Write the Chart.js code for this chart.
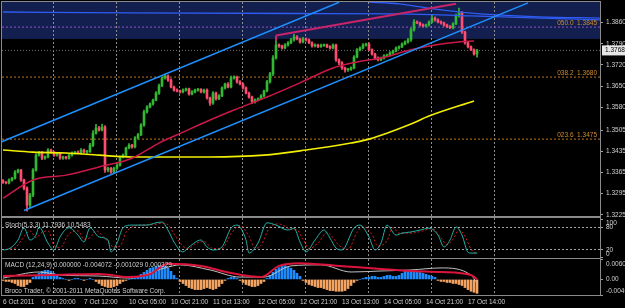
<!DOCTYPE html>
<html>
<head>
<meta charset="utf-8">
<script src="https://cdn.jsdelivr.net/npm/chart.js@4.4.0/dist/chart.umd.min.js"></script>
<style>
  html, body { margin: 0; padding: 0; background: #000; }
  #wrap { position: relative; width: 625px; height: 308px; overflow: hidden; }
  #wrap canvas { position: absolute; left: 0; top: 0; }
</style>
</head>
<body>
<div id="wrap">
  <canvas id="mainChart" width="625" height="308"></canvas>
  <canvas id="stochChart" width="625" height="308"></canvas>
  <canvas id="macdChart" width="625" height="308"></canvas>
</div>
<script>
const fontFam = '"Liberation Sans", Arial, sans-serif';
const txtColor = '#d0d0d0';
const xMin = -0.333, xMax = 199; // bar index range, right part is chart shift

// time axis
const gridIdx = [17, 38, 59, 80, 101, 122, 143, 164];
const timeIdx = [0, 13, 27, 42, 56, 70, 85, 99, 113, 127, 141, 155];
const timeLabels = ['6 Oct 2011', '6 Oct 20:00', '7 Oct 12:00', '10 Oct 05:00', '10 Oct 21:00', '11 Oct 13:00',
  '12 Oct 05:00', '12 Oct 21:00', '13 Oct 13:00', '14 Oct 05:00', '14 Oct 21:00', '17 Oct 14:00'];

// price panel
const priceMin = 1.3221, priceMax = 1.3928;
const priceTicks = [1.3860, 1.3790, 1.3720, 1.3650, 1.3580, 1.3505, 1.3435, 1.3365, 1.3295, 1.3225];
const firstOpen = 1.3338;
const closes = [
  1.3333, 1.3330, 1.3340, 1.3346, 1.3366, 1.3373, 1.3340, 1.3313, 1.3257, 1.3290,
  1.3373, 1.3422, 1.3432, 1.3412, 1.3416, 1.3439, 1.3432, 1.3422, 1.3426, 1.3412,
  1.3416, 1.3412, 1.3422, 1.3429, 1.3432, 1.3429, 1.3439, 1.3432, 1.3434, 1.3455,
  1.3495, 1.3512, 1.3505, 1.3515, 1.3373, 1.3379, 1.3366, 1.3379, 1.3389, 1.3416,
  1.3422, 1.3446, 1.3455, 1.3449, 1.3479, 1.3489, 1.3522, 1.3565, 1.3581, 1.3591,
  1.3604, 1.3627, 1.3651, 1.3677, 1.3684, 1.3670, 1.3647, 1.3637, 1.3634, 1.3631,
  1.3637, 1.3641, 1.3624, 1.3631, 1.3637, 1.3639, 1.3631, 1.3637, 1.3611, 1.3594,
  1.3627, 1.3608, 1.3618, 1.3644, 1.3657, 1.3647, 1.3677, 1.3680, 1.3664, 1.3657,
  1.3644, 1.3627, 1.3614, 1.3598, 1.3604, 1.3608, 1.3618, 1.3634, 1.3664, 1.3690,
  1.3743, 1.3786, 1.3783, 1.3776, 1.3786, 1.3793, 1.3803, 1.3813, 1.3806, 1.3796,
  1.3806, 1.3803, 1.3793, 1.3783, 1.3786, 1.3781, 1.3785, 1.3786, 1.3780, 1.3776,
  1.3786, 1.3737, 1.3727, 1.3710, 1.3704, 1.3706, 1.3710, 1.3746, 1.3770, 1.3776,
  1.3786, 1.3789, 1.3770, 1.3756, 1.3743, 1.3737, 1.3743, 1.3750, 1.3753, 1.3760,
  1.3766, 1.3776, 1.3780, 1.3789, 1.3796, 1.3803, 1.3836, 1.3862, 1.3859, 1.3852,
  1.3849, 1.3852, 1.3862, 1.3875, 1.3869, 1.3862, 1.3859, 1.3852, 1.3846, 1.3843,
  1.3856, 1.3882, 1.3892, 1.3829, 1.3793, 1.3780, 1.3770, 1.3756, 1.3768
];
// wick lengths in pips above / below the body
const wickUp = [
  3, 2, 4, 3, 5, 3, 2, 3, 4, 6, 5, 4, 3, 3, 4, 5, 3, 2, 3, 3,
  3, 2, 3, 4, 3, 4, 5, 3, 4, 6, 8, 12, 5, 10, 5, 4, 3, 4, 5, 3,
  4, 3, 5, 3, 4, 5, 4, 6, 5, 4, 3, 5, 6, 4, 6, 3, 4, 3, 4, 3,
  4, 3, 3, 4, 3, 4, 3, 3, 4, 3, 5, 3, 4, 4, 3, 5, 6, 4, 3, 4,
  3, 4, 3, 3, 4, 3, 4, 3, 5, 6, 8, 22, 4, 3, 5, 4, 5, 8, 4, 3,
  5, 4, 3, 3, 4, 3, 4, 3, 3, 4, 4, 3, 3, 4, 3, 3, 4, 5, 4, 4,
  5, 3, 4, 3, 3, 4, 3, 4, 3, 4, 3, 4, 3, 4, 4, 5, 6, 8, 4, 3,
  4, 3, 4, 10, 4, 3, 4, 3, 3, 4, 4, 6, 16, 4, 3, 4, 3, 3, 4
];
const wickDn = [
  4, 3, 3, 4, 3, 3, 5, 6, 20, 8, 5, 4, 3, 5, 4, 3, 4, 4, 3, 4,
  4, 3, 3, 3, 4, 3, 4, 3, 4, 3, 5, 4, 4, 3, 8, 6, 4, 5, 4, 3,
  3, 4, 3, 4, 3, 4, 3, 5, 4, 3, 4, 3, 4, 3, 4, 4, 3, 4, 3, 4,
  3, 4, 4, 3, 3, 4, 3, 4, 4, 8, 4, 4, 3, 3, 4, 3, 3, 4, 4, 3,
  4, 3, 4, 6, 4, 3, 3, 4, 3, 4, 5, 4, 5, 4, 3, 4, 3, 4, 3, 4,
  3, 4, 3, 4, 3, 4, 3, 4, 3, 4, 3, 5, 6, 5, 8, 5, 4, 3, 3, 4,
  3, 4, 3, 4, 5, 4, 3, 4, 3, 3, 4, 3, 4, 3, 3, 4, 5, 4, 3, 4,
  3, 4, 4, 3, 4, 3, 4, 4, 3, 3, 4, 3, 4, 5, 4, 4, 3, 4, 10
];
const bidPrice = 1.3768;
const fibLevels = [1.3845, 1.3680, 1.3475];
const fibNames = ['050.0', '038.2', '023.6'];
const zoneHigh = 1.3928, zoneLow = 1.3806;

// moving averages (bar index, price)
const maRedX = [0, 10, 21, 32, 43, 52, 60, 69, 77, 88, 99, 110, 118, 126, 136, 144, 152, 157];
const maRedY = [1.3280, 1.3340, 1.3356, 1.3383, 1.3412, 1.3462, 1.3498, 1.3538, 1.3571, 1.3614, 1.3661, 1.3710,
  1.3730, 1.3743, 1.3770, 1.3786, 1.3796, 1.3799];
const maYelX = [0, 10, 21, 32, 43, 56, 69, 87, 101, 116, 122, 136, 142, 157];
const maYelY = [1.3439, 1.3432, 1.3429, 1.3422, 1.3416, 1.3416, 1.3416, 1.3422, 1.3439, 1.3462, 1.3475, 1.3525,
  1.3551, 1.3601];
const maBlueX = [0, 42, 99, 132, 156, 179, 199];
const maBlueY = [1.3895, 1.3892, 1.3890, 1.3889, 1.3882, 1.3875, 1.3869];
const maBlue2X = [122, 132, 146, 159, 179, 199];
const maBlue2Y = [1.3928, 1.3922, 1.3902, 1.3889, 1.3879, 1.3875];

// trend lines (two anchors each)
const chanUpX = [-1, 112], chanUpY = [1.3464, 1.3927];
const chanLoX = [7, 175], chanLoY = [1.3239, 1.3925];
const pinkX = [91, 151], pinkY = [1.3817, 1.3922];
const pinkTickX = [91, 91], pinkTickY = [1.3817, 1.3800];

// stochastic
const stochX = [0, 2, 5, 7, 9, 11, 12, 15, 17, 19, 22, 25, 27, 29, 32, 35, 36, 38, 40, 43, 48, 51, 53, 55, 57, 60, 62, 66,
  68, 70, 73, 76, 78, 81, 82, 85, 88, 91, 95, 97, 99, 101, 104, 107, 109, 111, 113, 117, 119, 122, 124, 126, 128, 131,
  133, 136, 139, 142, 145, 147, 149, 151, 153, 155, 156, 158];
const stochY = [20, 23, 46, 78, 46, 59, 80, 38, 20, 54, 78, 59, 41, 78, 54, 46, 15, 38, 78, 85, 85, 91, 93, 72, 41, 15, 28, 46,
  28, 20, 28, 77, 85, 46, 12, 38, 91, 85, 72, 77, 41, 15, 46, 72, 51, 25, 20, 77, 85, 54, 20, 38, 85, 59,
  64, 67, 72, 77, 59, 28, 46, 80, 59, 14, 12, 11.8];
const sigX = [1, 4, 6, 9, 11, 13, 15, 17, 19, 22, 25, 27, 29, 31, 34, 37, 39, 41, 45, 50, 53, 55, 57, 60, 62, 64, 67, 70,
  73, 76, 79, 82, 84, 86, 89, 92, 96, 98, 100, 102, 105, 108, 110, 112, 115, 118, 120, 123, 125, 128, 130, 132, 136,
  140, 143, 146, 148, 150, 152, 154, 156, 158];
const sigY = [22, 25, 44, 70, 52, 66, 70, 32, 26, 62, 70, 48, 52, 70, 50, 28, 30, 66, 84, 86, 90, 86, 62, 30, 24, 36, 42, 24,
  24, 62, 84, 56, 24, 32, 80, 88, 74, 72, 48, 24, 38, 66, 52, 32, 22, 66, 82, 60, 30, 44, 78, 64, 64,
  70, 76, 52, 34, 48, 72, 56, 22, 10.5];

// MACD
const macdHist = [
  -0.0003, -0.0006, -0.0006, -0.0009,
  -0.0012, -0.0018, -0.0021, -0.0021, -0.0015, -0.0009,
  0.0006, 0.0012, 0.0018, 0.0024, 0.0027, 0.0027, 0.0024, 0.0018, 0.0012, 0.0006,
  0.0003, 0, -0.0003, 0, 0.0003, 0.0003, 0, -0.0003, 0, 0.0003, 0,
  -0.0006, -0.0012, -0.0018, -0.0021, -0.0024, -0.0024, -0.0021, -0.0018, -0.0012, -0.0006, -0.0003,
  0, 0.0003, 0.0006, 0.0009,
  0.0015, 0.0021, 0.0027, 0.0033, 0.0035, 0.0038, 0.0041, 0.0041, 0.0038, 0.0033, 0.0024, 0.0012,
  0.0003, -0.0006, -0.0012, -0.0018, -0.0024, -0.0027, -0.0030, -0.0030, -0.0030, -0.0027, -0.0024, -0.0027,
  -0.0030, -0.0027, -0.0021, -0.0012,
  -0.0003, 0.0003, 0.0006, 0.0006, 0.0003,
  -0.0003, -0.0009, -0.0015, -0.0018, -0.0021, -0.0021, -0.0018, -0.0012, -0.0006,
  0.0003, 0.0012, 0.0021, 0.0030, 0.0035, 0.0041, 0.0041, 0.0038, 0.0033, 0.0027, 0.0018, 0.0009,
  -0.0003, -0.0009, -0.0015, -0.0018, -0.0021, -0.0024, -0.0024, -0.0027, -0.0030, -0.0033, -0.0033, -0.0035,
  -0.0035, -0.0035, -0.0033, -0.0027, -0.0018, -0.0009,
  -0.0003, 0, 0.0003, 0.0006, 0.0006, 0.0009, 0.0009, 0.0006, 0.0006, 0.0009, 0.0012, 0.0012, 0.0009, 0.0009, 0.0012,
  0.0018, 0.0024, 0.0027, 0.0027, 0.0024, 0.0021, 0.0021, 0.0018, 0.0015, 0.0012, 0.0009, 0.0006,
  -0.0003, -0.0006, -0.0006, -0.0009, -0.0009, -0.0012, -0.0012, -0.0015, -0.0018, -0.0024, -0.0030, -0.0035,
  -0.0038, -0.0041
];
const macdSigX = [0, 16, 32, 42, 49, 55, 66, 76, 86, 92, 99, 112, 126, 136, 146, 156, 158];
const macdSigY = [0.0010, 0.0013, 0.0016, 0.0007, 0.0016, 0.0046, 0.0040, 0.0019, 0.0007, 0.0040, 0.0048, 0.0040,
  0.0031, 0.0025, 0.0022, 0.0013, 0.0001];
const macdLineX = [0, 12, 19, 32, 42, 54, 59, 69, 79, 87, 96, 106, 116, 126, 136, 146, 156, 158];
const macdLineY = [0.0004, 0.0022, 0.0013, 0.0010, 0.0004, 0.0034, 0.0043, 0.0028, 0.0007, 0.0007, 0.0040, 0.0043,
  0.0022, 0.0025, 0.0028, 0.0034, 0.0013, -0.0011];

Chart.defaults.font.family = fontFam;
Chart.defaults.color = txtColor;

const pts = (xs, ys) => xs.map((x, i) => ({ x: x, y: ys[i] }));
const idx = closes.map((c, i) => i);
const opens = closes.map((c, i) => (i === 0 ? firstOpen : closes[i - 1]));
const highs = closes.map((c, i) => Math.max(opens[i], c) + wickUp[i] * 0.0001);
const lows = closes.map((c, i) => Math.min(opens[i], c) - wickDn[i] * 0.0001);
const candleColor = closes.map((c, i) => (c >= opens[i] ? '#33b833' : '#ff4d70'));

function gridAxis() {
  return {
    type: 'linear', min: xMin, max: xMax, offset: false,
    afterBuildTicks: s => { s.ticks = gridIdx.map(v => ({ value: v })); },
    afterFit: s => { s.height = 0; s.paddingLeft = 0; s.paddingRight = 0; },
    ticks: { display: false },
    grid: { color: '#8e8e8e', drawTicks: false, offset: false },
    border: { display: false, dash: [2, 2] }
  };
}

const framePlugin = {
  id: 'frame',
  afterDraw(chart) {
    const a = chart.chartArea, ctx = chart.ctx;
    ctx.save();
    ctx.strokeStyle = '#8a8a8a';
    ctx.lineWidth = 1;
    ctx.strokeRect(a.left - 0.5, a.top - 0.5, a.right - a.left + 1, a.bottom - a.top + 1);
    ctx.restore();
  }
};

function sideLabels(values, texts) {
  return {
    id: 'sideLabels',
    afterDraw(chart) {
      const s = chart.scales.y, a = chart.chartArea, ctx = chart.ctx;
      ctx.save();
      ctx.font = '6.5px ' + fontFam;
      ctx.fillStyle = txtColor;
      ctx.textBaseline = 'middle';
      values.forEach((v, i) => {
        let y = s.getPixelForValue(v);
        y = Math.min(Math.max(y, a.top + 5), a.bottom - 4);
        ctx.fillText(texts[i], a.right + 6, y);
      });
      ctx.restore();
    }
  };
}

function panelText(lines) {
  return {
    id: 'panelText',
    afterDraw(chart) {
      const ctx = chart.ctx;
      ctx.save();
      ctx.font = '6.5px ' + fontFam;
      ctx.fillStyle = txtColor;
      ctx.textBaseline = 'middle';
      lines.forEach(l => ctx.fillText(l[0], l[1], l[2]));
      ctx.restore();
    }
  };
}

const mainPlugin = {
  id: 'mainDecor',
  beforeDraw(chart) {
    const s = chart.scales.y, a = chart.chartArea, ctx = chart.ctx;
    const y1 = s.getPixelForValue(zoneHigh), y2 = s.getPixelForValue(zoneLow);
    ctx.save();
    ctx.fillStyle = '#13204f';
    ctx.fillRect(a.left, y1, a.right - a.left, y2 - y1);
    ctx.restore();
  },
  afterDraw(chart) {
    const s = chart.scales.y, a = chart.chartArea, ctx = chart.ctx;
    ctx.save();
    ctx.font = '6.5px ' + fontFam;
    ctx.textAlign = 'right';
    ctx.textBaseline = 'bottom';
    ctx.fillStyle = '#d08a2c';
    fibLevels.forEach((lv, i) => {
      ctx.fillText(fibNames[i] + '  ' + lv.toFixed(4), a.right - 3, s.getPixelForValue(lv) - 1);
    });
    const by = s.getPixelForValue(bidPrice);
    ctx.fillStyle = '#e6e6e6';
    ctx.fillRect(a.right + 2, by - 5, 23, 10);
    ctx.fillStyle = '#000';
    ctx.textAlign = 'left';
    ctx.textBaseline = 'middle';
    ctx.fillText(bidPrice.toFixed(4), a.right + 5, by);
    ctx.restore();
  }
};

const lineDs = (data, color, width, order, extra) => Object.assign({
  type: 'line', data: data, borderColor: color, borderWidth: width, pointRadius: 0,
  fill: false, tension: 0, order: order
}, extra || {});

// main price chart
new Chart(document.getElementById('mainChart'), {
  type: 'bar',
  data: {
    datasets: [
      lineDs(pts(chanUpX, chanUpY), '#1e90ff', 1.5, 0),
      lineDs(pts(chanLoX, chanLoY), '#1e90ff', 1.5, 0),
      lineDs(pts(pinkX, pinkY), '#c8246a', 2, 0),
      lineDs(pts(pinkTickX, pinkTickY), '#c8246a', 2, 0),
      lineDs(pts(maRedX, maRedY), '#cc1848', 1.5, 1, { cubicInterpolationMode: 'monotone' }),
      lineDs(pts(maYelX, maYelY), '#f2f000', 1.6, 1, { cubicInterpolationMode: 'monotone' }),
      lineDs(pts(maBlueX, maBlueY), '#2f5cf2', 1.3, 1, { cubicInterpolationMode: 'monotone' }),
      lineDs(pts(maBlue2X, maBlue2Y), '#2f5cf2', 1.3, 1, { cubicInterpolationMode: 'monotone' }),
      {
        type: 'bar', order: 2, grouped: false, barThickness: 2, minBarLength: 1,
        data: idx.map(i => ({ x: i, y: [opens[i], closes[i]] })),
        backgroundColor: candleColor
      },
      {
        type: 'bar', order: 3, grouped: false, barThickness: 1, minBarLength: 1,
        data: idx.map(i => ({ x: i, y: [lows[i], highs[i]] })),
        backgroundColor: candleColor
      },
      lineDs(pts([xMin, xMax], [fibLevels[0], fibLevels[0]]), '#9050c8', 1, 4, { borderDash: [2, 2] }),
      lineDs(pts([xMin, xMax], [fibLevels[1], fibLevels[1]]), '#c27420', 1, 4, { borderDash: [2, 2] }),
      lineDs(pts([xMin, xMax], [fibLevels[2], fibLevels[2]]), '#c27420', 1, 4, { borderDash: [2, 2] }),
      lineDs(pts([xMin, xMax], [bidPrice, bidPrice]), '#6a6a6a', 1, 4, { borderDash: [1, 2] })
    ]
  },
  options: {
    responsive: false, animation: false, events: [],
    layout: { padding: { left: 2, top: 2, right: 0, bottom: 92 } },
    plugins: { legend: { display: false }, tooltip: { enabled: false } },
    scales: {
      x: gridAxis(),
      y: {
        type: 'linear', position: 'right', min: priceMin, max: priceMax,
        afterBuildTicks: s => { s.ticks = priceTicks.map(v => ({ value: v })); },
        afterFit: s => { s.width = 25; s.paddingTop = 0; s.paddingBottom = 0; },
        ticks: { color: txtColor, font: { size: 6.5 }, padding: 3, autoSkip: false, callback: v => v.toFixed(4) },
        grid: { drawOnChartArea: false, drawTicks: true, tickLength: 3, tickColor: '#a0a0a0' },
        border: { display: false }
      }
    }
  },
  plugins: [mainPlugin, framePlugin]
});

// stochastic panel
new Chart(document.getElementById('stochChart'), {
  type: 'line',
  data: {
    datasets: [
      lineDs(pts(stochX, stochY), '#24b0a6', 1, 0, { cubicInterpolationMode: 'monotone' }),
      lineDs(pts(sigX, sigY), '#d41c1c', 1, 1, { borderDash: [2, 2], cubicInterpolationMode: 'monotone' })
    ]
  },
  options: {
    responsive: false, animation: false, events: [],
    layout: { padding: { left: 2, top: 218, right: 0, bottom: 50 } },
    plugins: { legend: { display: false }, tooltip: { enabled: false } },
    scales: {
      x: gridAxis(),
      y: {
        type: 'linear', position: 'right', min: -0.9, max: 103.5,
        afterBuildTicks: s => { s.ticks = [100, 80, 20, 0].map(v => ({ value: v })); },
        afterFit: s => { s.width = 25; s.paddingTop = 0; s.paddingBottom = 0; },
        ticks: { display: false },
        grid: {
          color: c => (c.tick && (c.tick.value === 80 || c.tick.value === 20)) ? '#a8a8a8' : 'rgba(0,0,0,0)',
          drawTicks: true, tickLength: 3, tickColor: '#a0a0a0'
        },
        border: { display: false, dash: [2, 2] }
      }
    }
  },
  plugins: [
    framePlugin,
    sideLabels([100, 80, 20, 0], ['100', '80', '20', '0']),
    panelText([['Stoch(5,3,3) 11.7936 10.5483', 5, 225]])
  ]
});

// MACD panel
new Chart(document.getElementById('macdChart'), {
  type: 'bar',
  data: {
    datasets: [
      lineDs(pts(macdSigX, macdSigY), '#dc143c', 2, 0, { cubicInterpolationMode: 'monotone' }),
      lineDs(pts(macdLineX, macdLineY), '#c0c0c0', 1, 1, { cubicInterpolationMode: 'monotone' }),
      {
        type: 'bar', order: 2, grouped: false, barThickness: 2,
        data: idx.map(i => ({ x: i, y: macdHist[i] })),
        backgroundColor: macdHist.map(v => (v >= 0 ? '#1e8cff' : '#f4a462'))
      }
    ]
  },
  options: {
    responsive: false, animation: false, events: [],
    layout: { padding: { left: 2, top: 259, right: 0, bottom: 0 } },
    plugins: { legend: { display: false }, tooltip: { enabled: false } },
    scales: {
      x: gridAxis(),
      xt: {
        type: 'linear', position: 'bottom', min: xMin, max: xMax, offset: false,
        afterBuildTicks: s => { s.ticks = timeIdx.map(v => ({ value: v })); },
        afterFit: s => { s.height = 13; s.paddingLeft = 0; s.paddingRight = 0; },
        ticks: {
          align: 'start', autoSkip: false, minRotation: 0, maxRotation: 0, padding: 3,
          color: txtColor, font: { size: 6.5 }, callback: (v, i) => timeLabels[i]
        },
        grid: { display: false, drawTicks: false },
        border: { display: false }
      },
      y: {
        type: 'linear', position: 'right', min: -0.0046, max: 0.00604,
        afterBuildTicks: s => { s.ticks = [0.00604, 0, -0.0046].map(v => ({ value: v })); },
        afterFit: s => { s.width = 25; s.paddingTop = 0; s.paddingBottom = 0; },
        ticks: { display: false },
        grid: { drawOnChartArea: false, drawTicks: true, tickLength: 3, tickColor: '#a0a0a0' },
        border: { display: false }
      }
    }
  },
  plugins: [
    framePlugin,
    sideLabels([0.00604, 0, -0.0046], ['0.00604', '0.00', '-0.00460']),
    panelText([
      ['MACD (12,24,9) 0.000000 -0.004072 -0.001029 0.000329', 5, 265],
      ['Broco Trader, \u00a9 2001-2011 MetaQuotes Software Corp.', 5, 291]
    ])
  ]
});
</script>
</body>
</html>
